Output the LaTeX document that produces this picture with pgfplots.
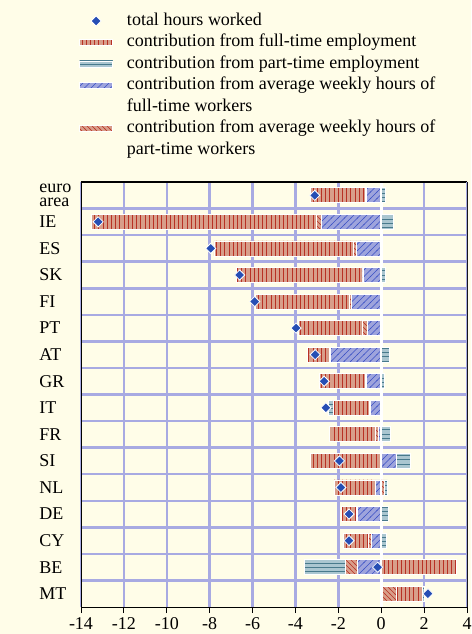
\documentclass[border=0pt]{standalone}
\usepackage{fontspec}
\setmainfont{Liberation Serif}
\usepackage{pgfplots}
\pgfplotsset{compat=1.18}
\usetikzlibrary{patterns}

\definecolor{bg}{RGB}{255,253,232}
\definecolor{gridc}{RGB}{168,170,226}
\definecolor{salm}{RGB}{216,158,138}
\definecolor{redl}{RGB}{184,48,36}
\definecolor{bluf}{RGB}{158,164,220}
\definecolor{blul}{RGB}{58,80,196}
\definecolor{tealf}{RGB}{170,198,208}
\definecolor{teall}{RGB}{72,122,140}
\definecolor{mk}{RGB}{38,78,180}

% hatch patterns
\pgfdeclarepatternformonly{vl}{\pgfqpoint{0pt}{-1pt}}{\pgfqpoint{4.2pt}{5.2pt}}{\pgfqpoint{4.2pt}{4.2pt}}%
 {\pgfsetlinewidth{0.7pt}\pgfpathmoveto{\pgfqpoint{2.1pt}{-1pt}}\pgfpathlineto{\pgfqpoint{2.1pt}{5.2pt}}\pgfusepath{stroke}}
\pgfdeclarepatternformonly{hl}{\pgfqpoint{-1pt}{0pt}}{\pgfqpoint{5.3pt}{4.3pt}}{\pgfqpoint{4.3pt}{4.3pt}}%
 {\pgfsetlinewidth{0.7pt}\pgfpathmoveto{\pgfqpoint{-1pt}{2.15pt}}\pgfpathlineto{\pgfqpoint{5.3pt}{2.15pt}}\pgfusepath{stroke}}
\pgfdeclarepatternformonly{nel}{\pgfqpoint{-1pt}{-1pt}}{\pgfqpoint{7.5pt}{7.5pt}}{\pgfqpoint{6.5pt}{6.5pt}}%
 {\pgfsetlinewidth{0.5pt}\pgfpathmoveto{\pgfqpoint{-0.5pt}{-0.5pt}}\pgfpathlineto{\pgfqpoint{7pt}{7pt}}\pgfusepath{stroke}}
\pgfdeclarepatternformonly{nwl}{\pgfqpoint{-1pt}{-1pt}}{\pgfqpoint{6pt}{6pt}}{\pgfqpoint{5pt}{5pt}}%
 {\pgfsetlinewidth{0.5pt}\pgfpathmoveto{\pgfqpoint{-0.5pt}{5.5pt}}\pgfpathlineto{\pgfqpoint{5.5pt}{-0.5pt}}\pgfusepath{stroke}}

\newcommand\fs{\fontsize{18}{21.5}\selectfont}

\pgfplotsset{
  ftemp/.style={fill=salm, draw=white, line width=0.8pt, postaction={pattern=vl, pattern color=redl}},
  ptemp/.style={fill=tealf, draw=white, line width=0.8pt, postaction={pattern=hl, pattern color=teall}},
  fthrs/.style={fill=bluf, draw=white, line width=0.8pt, postaction={pattern=nel, pattern color=blul}},
  pthrs/.style={fill=salm, draw=white, line width=0.8pt, postaction={pattern=nwl, pattern color=redl}},
  dia/.style={only marks, mark=square*, mark size=3.6pt, mark options={rotate=45, fill=mk, draw=white, line width=0.8pt}},
  barleg/.style={legend image code/.code={\draw[##1] (0pt,-3pt) rectangle (33pt,3pt);}},
  mkleg/.style={legend image code/.code={\draw[##1] plot coordinates {(16.5pt,0pt)};}},
  frame0/.style={scale only axis, width=386pt, height=425pt, at={(0,0)}, anchor=south west,
    xmin=-14, xmax=4, ymin=-0.5, ymax=15.5, y dir=reverse},
  frame/.style={frame0, xbar stacked, bar width=15pt},
}

\begin{document}
\begin{tikzpicture}
\fill[bg] (-81pt,-27pt) rectangle (390pt,607pt);

% negative side of each stack
\begin{axis}[frame,
  xtick={-14,-12,...,4}, ytick={0,...,15},
  yticklabels={{euro\\[-7pt]area},IE,ES,SK,FI,PT,AT,GR,IT,FR,SI,NL,DE,CY,BE,MT},
  minor ytick={0.5,1.5,...,14.5},
  xmajorgrids, yminorgrids,
  major grid style={gridc, line width=2.5pt}, minor grid style={gridc, line width=2.5pt},
  axis line style={black, line width=0.8pt},
  tick align=outside, xtick pos=left, major tick length=6pt,
  ytick style={draw=none}, xtick style={black, line width=0.8pt},
  tick label style={font=\fs},
  /pgf/number format/assume math mode=true,
  xticklabel style={yshift=-1pt},
  yticklabel style={text width=32pt, align=left},
  legend cell align=left,
  legend style={draw=none, fill=none, at={(0,1)}, anchor=north west, xshift=-2pt, yshift=172pt,
    font=\fs, inner sep=0pt, row sep=0pt, column sep=12pt,
    nodes={text height=13pt, text depth=4.5pt, inner sep=2pt}},
]
\addlegendimage{dia, mkleg}
\addlegendimage{ftemp, barleg}
\addlegendimage{ptemp, barleg}
\addlegendimage{fthrs, barleg}
\addlegendimage{empty legend}
\addlegendimage{pthrs, barleg}
\addlegendimage{empty legend}

\draw[white, line width=3pt] (axis cs:0,-0.5) -- (axis cs:0,15.5);
\draw[black, line width=0.8pt, dash pattern=on 5pt off 2pt] (axis cs:0.05,-0.5) -- (axis cs:0.05,15.5);

% average weekly hours of full-time workers
\addplot[fthrs] coordinates {(-0.7,0) (-2.8,1) (-1.15,2) (-0.85,3) (-1.4,4) (-0.65,5) (-2.35,6) (-0.7,7)
  (-0.5,8) (-0.15,9) (0,10) (-0.25,11) (-1.1,12) (-0.45,13) (-1.1,14) (0,15)};
% average weekly hours of part-time workers
\addplot[pthrs] coordinates {(-0.05,0) (-0.2,1) (-0.15,2) (-0.05,3) (-0.1,4) (-0.25,5) (-0.05,6) (-0.05,7)
  (-0.05,8) (-0.1,9) (0,10) (0,11) (-0.05,12) (-0.15,13) (-0.55,14) (0,15)};
% full-time employment
\addplot[ftemp] coordinates {(-2.55,0) (-10.5,1) (-6.5,2) (-5.85,3) (-4.35,4) (-2.95,5) (-1.05,6) (-2.15,7)
  (-1.7,8) (-2.15,9) (-3.3,10) (-1.95,11) (-0.7,12) (-1.15,13) (0,14) (0,15)};
% part-time employment
\addplot[ptemp] coordinates {(0,0) (0,1) (0,2) (0,3) (0,4) (0,5) (0,6) (0,7)
  (-0.2,8) (0,9) (0,10) (0,11) (0,12) (0,13) (-1.95,14) (0,15)};

\legend{total hours worked, contribution from full-time employment, contribution from part-time employment,
  contribution from average weekly hours of, full-time workers, contribution from average weekly hours of, part-time workers}
\end{axis}

% positive side of each stack
\begin{axis}[frame, hide axis]
\addplot[fthrs] coordinates {(0,0) (0,1) (0,2) (0,3) (0,4) (0,5) (0,6) (0,7)
  (0,8) (0,9) (0.7,10) (0,11) (0,12) (0,13) (0,14) (0.05,15)};
\addplot[pthrs] coordinates {(0,0) (0,1) (0,2) (0,3) (0,4) (0,5) (0,6) (0,7)
  (0,8) (0,9) (0,10) (0.15,11) (0,12) (0,13) (0,14) (0.65,15)};
\addplot[ftemp] coordinates {(0,0) (0,1) (0,2) (0,3) (0,4) (0,5) (0,6) (0,7)
  (0,8) (0,9) (0,10) (0,11) (0,12) (0,13) (3.5,14) (1.2,15)};
\addplot[ptemp] coordinates {(0.2,0) (0.55,1) (0,2) (0.2,3) (0,4) (0,5) (0.37,6) (0.15,7)
  (0,8) (0.45,9) (0.65,10) (0.15,11) (0.35,12) (0.25,13) (0,14) (0.12,15)};
\draw[gridc, line width=2.5pt] (axis cs:4,-0.5) -- (axis cs:4,15.5);
\draw[black, line width=1.5pt] (axis cs:-14,-0.5) -- (axis cs:4,-0.5);
\end{axis}

% total hours worked (no marker shown for FR)
\begin{axis}[frame0, hide axis, clip=false]
\addplot[dia] coordinates {(-3.1,0) (-13.2,1) (-7.95,2) (-6.6,3) (-5.9,4) (-3.97,5) (-3.08,6)
  (-2.66,7) (-2.58,8) (-1.95,10) (-1.88,11) (-1.5,12) (-1.5,13) (-0.17,14) (2.18,15)};
\end{axis}

\pgfresetboundingbox
\useasboundingbox (-81pt,-27pt) rectangle (390pt,607pt);
\end{tikzpicture}
\end{document}
